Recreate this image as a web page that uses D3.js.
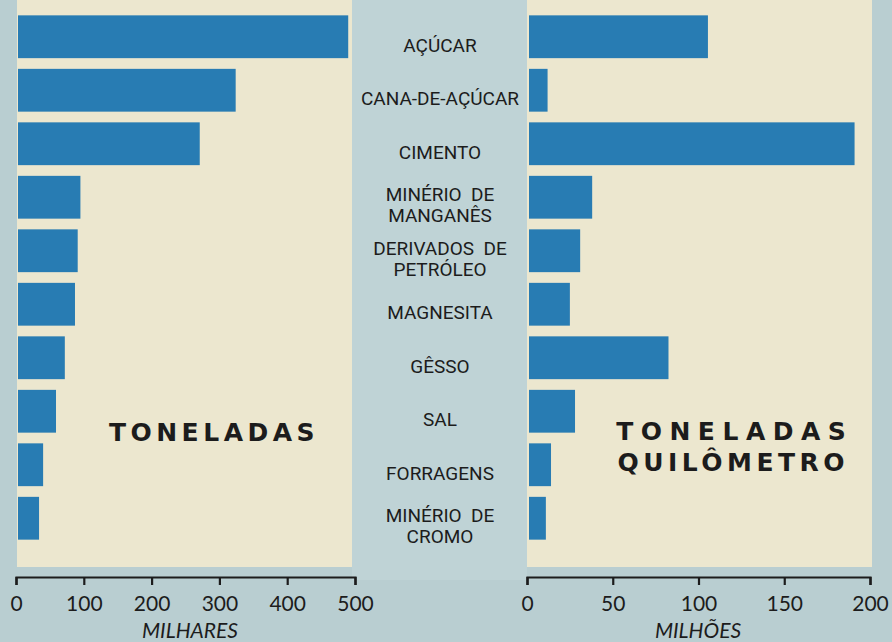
<!DOCTYPE html>
<html>
<head>
<meta charset="utf-8">
<script src="https://cdn.jsdelivr.net/npm/d3@7"></script>
<style>
  html, body { margin: 0; padding: 0; background: #b9ced1; }
  svg { display: block; }
</style>
</head>
<body>
<svg id="chart" width="892" height="642"></svg>
<script>
// ---- data ----
const categories = ["AÇÚCAR", "CANA-DE-AÇÚCAR", "CIMENTO", "MINÉRIO DE MANGANÊS", "DERIVADOS DE PETRÓLEO",
                    "MAGNESITA", "GÊSSO", "SAL", "FORRAGENS", "MINÉRIO DE CROMO"];
const labelLines = [["AÇÚCAR"], ["CANA-DE-AÇÚCAR"], ["CIMENTO"], ["MINÉRIO  DE", "MANGANÊS"], ["DERIVADOS  DE", "PETRÓLEO"],
                    ["MAGNESITA"], ["GÊSSO"], ["SAL"], ["FORRAGENS"], ["MINÉRIO  DE", "CROMO"]];
const toneladas = [490, 324, 271, 95, 91, 87, 72, 59, 40, 34];            // milhares
const toneladasQuilometro = [105.5, 12, 191, 38, 31, 25, 82.5, 28, 14, 11]; // milhões
const ticksLeft = [0, 100, 200, 300, 400, 500];
const ticksRight = [0, 50, 100, 150, 200];
const leftTitle = ["TONELADAS"];
const rightTitle = ["TONELADAS", "QUILÔMETRO"];
const leftUnit = "MILHARES";
const rightUnit = "MILHÕES";

// ---- layout ----
const svg = d3.select("#chart");
const barColor = "#287cb3";
const cream = "#ece7cf";
const ink = "#1c1c1c";

// background
svg.append("rect").attr("x", 0).attr("y", 0).attr("width", 892).attr("height", 642).attr("fill", "#b9ced1");
svg.append("rect").attr("x", 352).attr("y", 0).attr("width", 175).attr("height", 580).attr("fill", "#bfd3d6");
// panels
svg.append("rect").attr("x", 17).attr("y", 0).attr("width", 335).attr("height", 567).attr("fill", cream);
svg.append("rect").attr("x", 527).attr("y", 0).attr("width", 345).attr("height", 567).attr("fill", cream);

const xL = d3.scaleLinear().domain([0, 500]).range([16, 355]);
const xR = d3.scaleLinear().domain([0, 200]).range([527, 870]);
const y = d3.scaleBand().domain(categories).range([10, 545]).paddingInner(0.2).paddingOuter(0.1);

// bars
svg.append("g").selectAll("rect").data(categories).join("rect")
  .attr("x", xL(0) + 2)
  .attr("y", d => y(d))
  .attr("width", (d, i) => xL(toneladas[i]) - xL(0) - 2)
  .attr("height", y.bandwidth())
  .attr("fill", barColor);

svg.append("g").selectAll("rect").data(categories).join("rect")
  .attr("x", xR(0) + 2)
  .attr("y", d => y(d))
  .attr("width", (d, i) => xR(toneladasQuilometro[i]) - xR(0) - 2)
  .attr("height", y.bandwidth())
  .attr("fill", barColor);

// category labels
const lab = svg.append("g")
  .attr("font-family", "Roboto, 'DejaVu Sans', sans-serif")
  .attr("font-weight", 400)
  .attr("font-size", 19)
  .attr("fill", ink)
  .attr("text-anchor", "middle");
categories.forEach((c, i) => {
  const cy = y(c) + y.bandwidth() / 2;
  const lines = labelLines[i];
  const t = lab.append("text").attr("x", 440).attr("xml:space", "preserve");
  if (lines.length === 1) {
    t.attr("y", cy + 15).text(lines[0]);
  } else {
    t.append("tspan").attr("x", 440).attr("y", cy + 4).text(lines[0]);
    t.append("tspan").attr("x", 440).attr("y", cy + 25).text(lines[1]);
  }
});

// axes
const axisY = 577;
function styleAxis(g) {
  g.select(".domain").attr("stroke", ink).attr("stroke-width", 2.2);
  g.selectAll(".tick line").attr("stroke", ink).attr("stroke-width", 2.2);
  g.selectAll(".tick text").attr("fill", ink)
    .attr("font-family", "Lato, 'DejaVu Sans', sans-serif").attr("font-size", 21);
}
svg.append("g").attr("transform", `translate(0,${axisY})`)
  .call(d3.axisBottom(xL).tickValues(ticksLeft).tickFormat(d3.format("d")).tickSize(8).tickSizeOuter(8).tickPadding(11))
  .call(styleAxis);
svg.append("g").attr("transform", `translate(0,${axisY})`)
  .call(d3.axisBottom(xR).tickValues(ticksRight).tickFormat(d3.format("d")).tickSize(8).tickSizeOuter(8).tickPadding(11))
  .call(styleAxis);

// unit labels
svg.append("text").attr("x", 190).attr("y", 638).attr("text-anchor", "middle")
  .attr("font-family", "Lato, 'DejaVu Sans', sans-serif").attr("font-style", "italic")
  .attr("font-size", 21).attr("fill", ink).text(leftUnit);
svg.append("text").attr("x", 698).attr("y", 638).attr("text-anchor", "middle")
  .attr("font-family", "Lato, 'DejaVu Sans', sans-serif").attr("font-style", "italic")
  .attr("font-size", 21).attr("fill", ink).text(rightUnit);

// panel titles
const titleFont = "'DejaVu Sans', sans-serif";
leftTitle.forEach((t, i) => {
  svg.append("text").attr("x", 214).attr("y", 441 + i * 31).attr("text-anchor", "middle")
    .attr("font-family", titleFont).attr("font-weight", 700).attr("font-size", 25)
    .attr("letter-spacing", 4.5).attr("fill", ink).text(t);
});
const rightSpacing = [7.5, 4.5];
rightTitle.forEach((t, i) => {
  svg.append("text").attr("x", 731 + rightSpacing[i] / 2).attr("y", 440 + i * 31).attr("text-anchor", "middle")
    .attr("font-family", titleFont).attr("font-weight", 700).attr("font-size", 25)
    .attr("letter-spacing", rightSpacing[i]).attr("fill", ink).text(t);
});
</script>
</body>
</html>
